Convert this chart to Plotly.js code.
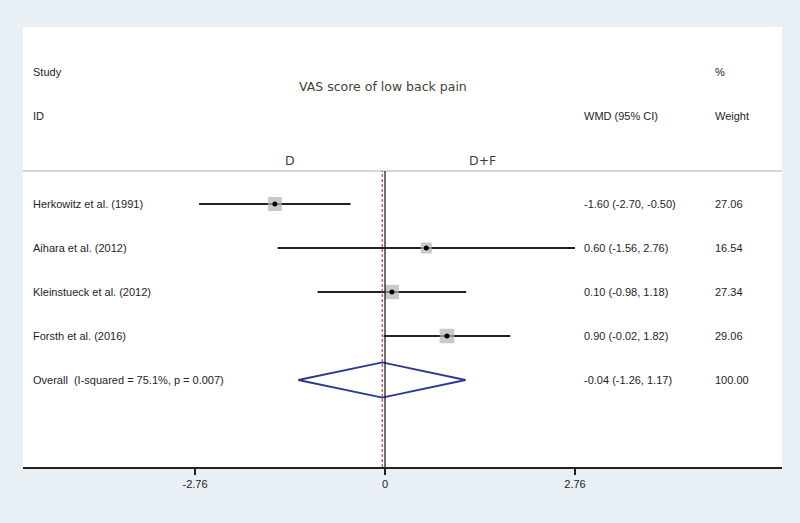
<!DOCTYPE html>
<html><head><meta charset="utf-8">
<script src="https://cdn.plot.ly/plotly-3.0.1.min.js"></script>
<style>html,body{margin:0;padding:0;background:#e8f0f6;}</style>
</head><body>
<div id="chart" style="width:800px;height:523px;"></div>
<script>
const studies = ["Herkowitz et al. (1991)", "Aihara et al. (2012)", "Kleinstueck et al. (2012)", "Forsth et al. (2016)"];
const est = [-1.60, 0.60, 0.10, 0.90];
const lo = [-2.70, -1.56, -0.98, -0.02];
const hi = [-0.50, 2.76, 1.18, 1.82];
const weights = [27.06, 16.54, 27.34, 29.06];
const overallLabel = "Overall  (I-squared = 75.1%, p = 0.007)";
const overall = {est: -0.04, lo: -1.26, hi: 1.17, weight: 100.00};
const tickVals = [-2.76, 0, 2.76];
const tickText = ["-2.76", "0", "2.76"];

const W = 800, H = 523;
const px = v => v / W;
const py = v => 1 - v / H;
const rows = studies.map((_, i) => i + 1);
const overallRow = studies.length + 1;
const fmt = v => v.toFixed(2);

const traces = [];
studies.forEach((s, i) => {
  traces.push({x: [lo[i], hi[i]], y: [rows[i], rows[i]], mode: 'lines', type: 'scatter',
    line: {color: '#222', width: 2}, hoverinfo: 'skip', showlegend: false});
});
traces.push({x: est, y: rows, mode: 'markers', type: 'scatter',
  marker: {symbol: 'square', color: '#b3b3b3', size: weights.map(w => 2.7 * Math.sqrt(w)), line: {width: 0}},
  hoverinfo: 'skip', showlegend: false});
traces.push({x: est, y: rows, mode: 'markers', type: 'scatter',
  marker: {symbol: 'circle', color: '#000', size: 5}, hoverinfo: 'skip', showlegend: false});
const dh = 0.4;
traces.push({x: [overall.lo, overall.est, overall.hi, overall.est, overall.lo],
  y: [overallRow, overallRow - dh, overallRow, overallRow + dh, overallRow],
  mode: 'lines', type: 'scatter', line: {color: '#2b3990', width: 1.8}, hoverinfo: 'skip', showlegend: false});

const lblFont = {family: 'Arial, Liberation Sans, sans-serif', size: 11, color: '#1e1e1e'};
const annotations = [];
studies.concat([overallLabel]).forEach((s, i) => {
  annotations.push({text: s, xref: 'paper', yref: 'y', x: px(31), y: i + 1, xanchor: 'left', yanchor: 'middle', showarrow: false, font: lblFont});
});
est.concat([overall.est]).forEach((e, i) => {
  const l = i < est.length ? lo[i] : overall.lo;
  const h = i < est.length ? hi[i] : overall.hi;
  annotations.push({text: `${fmt(e)} (${fmt(l)}, ${fmt(h)})`, xref: 'paper', yref: 'y', x: px(582), y: i + 1, xanchor: 'left', yanchor: 'middle', showarrow: false, font: lblFont});
});
weights.concat([overall.weight]).forEach((w, i) => {
  annotations.push({text: fmt(w), xref: 'paper', yref: 'y', x: px(713), y: i + 1, xanchor: 'left', yanchor: 'middle', showarrow: false, font: lblFont});
});
const hdr = [["Study", 31, 72], ["ID", 31, 116], ["%", 713, 72], ["WMD (95% CI)", 582, 116], ["Weight", 713, 116]];
hdr.forEach(([t, x, y]) => annotations.push({text: t, xref: 'paper', yref: 'paper', x: px(x), y: py(y), xanchor: 'left', yanchor: 'middle', showarrow: false, font: lblFont}));
const titleFont = {family: 'DejaVu Sans, sans-serif', size: 12.5, color: '#4a3d35'};
annotations.push({text: 'VAS score of low back pain', xref: 'paper', yref: 'paper', x: px(383), y: py(87), xanchor: 'center', yanchor: 'middle', showarrow: false, font: titleFont});
annotations.push({text: 'D', xref: 'paper', yref: 'paper', x: px(290), y: py(161), xanchor: 'center', yanchor: 'middle', showarrow: false, font: titleFont});
annotations.push({text: 'D+F', xref: 'paper', yref: 'paper', x: px(482), y: py(161), xanchor: 'center', yanchor: 'middle', showarrow: false, font: titleFont});

const pxPerUnit = (575 - 385) / 2.76;
const xl = 23, xr = 782;
const xRange = [(xl - 385) / pxPerUnit, (xr - 385) / pxPerUnit];
const yTopPx = 171, yBotPx = 467;
const yRange = [(yBotPx - 160) / 44, (yTopPx - 160) / 44];

const layout = {
  width: W, height: H,
  margin: {l: 0, r: 0, t: 0, b: 0},
  paper_bgcolor: '#e8f0f6', plot_bgcolor: 'rgba(0,0,0,0)',
  xaxis: {domain: [px(xl), px(xr)], range: xRange, showgrid: false, zeroline: false,
    showline: true, linecolor: '#222', linewidth: 1.5,
    tickmode: 'array', tickvals: tickVals, ticktext: tickText,
    ticks: 'outside', ticklen: 6, tickwidth: 1.2, tickcolor: '#222',
    tickfont: {family: 'Liberation Sans Narrow, Arial Narrow, Arial, sans-serif', size: 11, color: '#222'}, fixedrange: true},
  yaxis: {domain: [py(yBotPx), py(yTopPx)], range: yRange, showgrid: false, zeroline: false, showline: false,
    showticklabels: false, ticks: '', fixedrange: true},
  shapes: [
    {type: 'rect', xref: 'paper', yref: 'paper', x0: px(xl), x1: px(xr), y0: py(yBotPx), y1: py(27), fillcolor: '#ffffff', line: {width: 0}, layer: 'below'},
    {type: 'line', xref: 'paper', yref: 'paper', x0: px(xl), x1: px(xr), y0: py(171), y1: py(171), line: {color: '#c9c9c9', width: 1.5}, layer: 'below'},
    {type: 'line', xref: 'x', yref: 'y domain', x0: 0, x1: 0, y0: 0, y1: 1, line: {color: '#111', width: 1.2}},
    {type: 'line', xref: 'x', yref: 'y domain', x0: overall.est, x1: overall.est, y0: 0, y1: 1, line: {color: '#b84a45', width: 1.2, dash: '3px,2px'}}
  ],
  annotations: annotations,
  showlegend: false
};
Plotly.newPlot('chart', traces, layout, {displayModeBar: false, staticPlot: true});
</script>
</body></html>
